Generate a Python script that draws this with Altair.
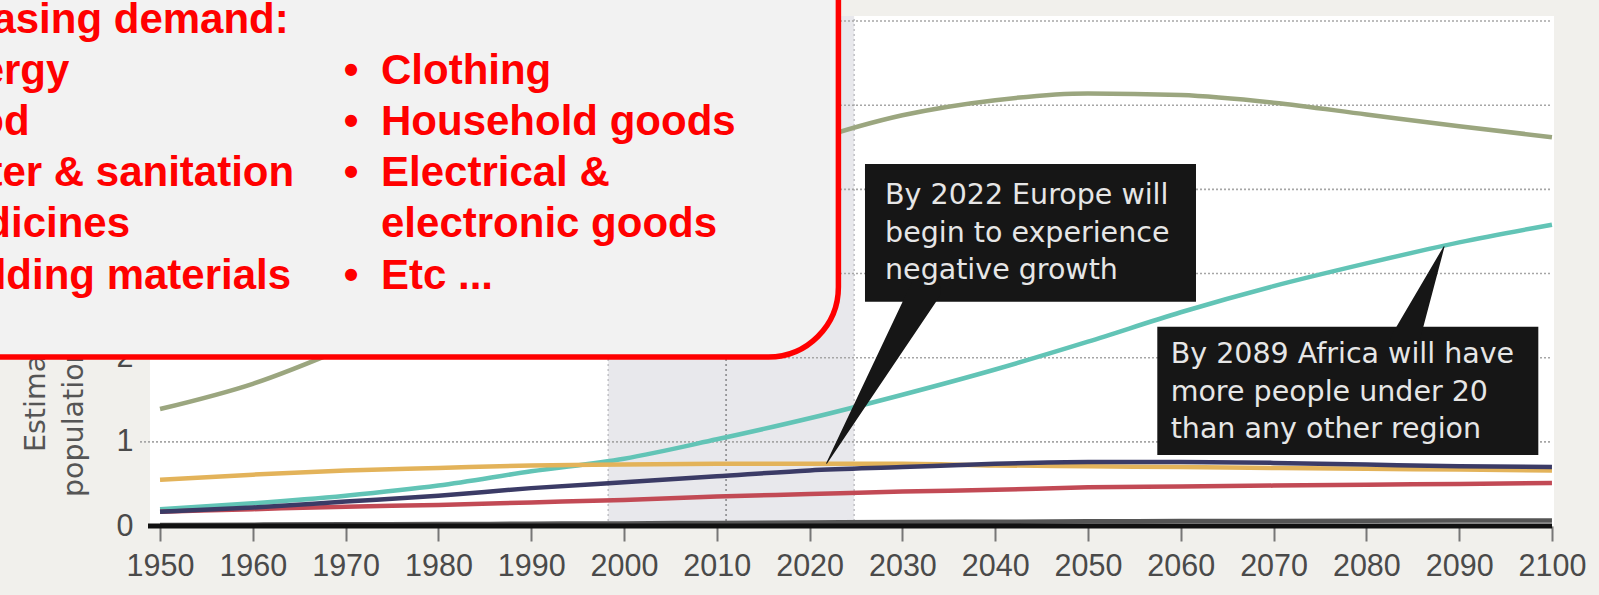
import altair as alt
import pandas as pd

# ---------------- data (billions) ----------------
years = [1950, 1960, 1970, 1980, 1990, 2000, 2010, 2020, 2030, 2040, 2050, 2060, 2070, 2080, 2090, 2100]
asia = [1.39, 1.69, 2.12, 2.62, 3.19, 3.70, 4.16, 4.57, 4.88, 5.06, 5.14, 5.12, 5.03, 4.89, 4.75, 4.62]
africa = [0.20, 0.27, 0.36, 0.48, 0.65, 0.80, 1.03, 1.28, 1.56, 1.86, 2.19, 2.54, 2.85, 3.12, 3.37, 3.58]
europe = [0.55, 0.61, 0.66, 0.69, 0.72, 0.73, 0.74, 0.74, 0.74, 0.72, 0.71, 0.70, 0.69, 0.68, 0.67, 0.66]
latin_america = [0.17, 0.22, 0.29, 0.36, 0.45, 0.52, 0.59, 0.66, 0.70, 0.74, 0.76, 0.76, 0.75, 0.73, 0.71, 0.70]
north_america = [0.17, 0.20, 0.23, 0.25, 0.28, 0.31, 0.35, 0.38, 0.41, 0.43, 0.46, 0.47, 0.48, 0.49, 0.50, 0.51]
oceania = [0.013, 0.016, 0.020, 0.023, 0.027, 0.031, 0.037, 0.042, 0.047, 0.051, 0.055, 0.058, 0.060, 0.062, 0.064, 0.066]

region_names = ["Asia", "Africa", "Europe", "North America", "Latin America", "Oceania"]
region_values = [asia, africa, europe, north_america, latin_america, oceania]
region_colors = ["#9ba67f", "#62c4b6", "#e3b35a", "#c24a55", "#3b3b66", "#555555"]

x_tick_values = years
y_tick_values = [0, 1, 2]          # higher labels are hidden beneath the red box
grid_values = [1, 2, 3, 4, 5, 6]

band_start, band_end = 1998.3, 2024.8
vline_years = [1998.3, 2011, 2024.8]
vline_colors = ["#c2c2c6", "#8a8a8e", "#c2c2c6"]

callout_texts = [
    "By 2022 Europe will\nbegin to experience\nnegative growth",
    "By 2089 Africa will have\nmore people under 20\nthan any other region",
]
callout_box_x = [2025.97, 2057.47]
callout_box_x2 = [2061.64, 2098.53]
callout_box_y = [4.301, 2.368]
callout_box_y2 = [2.665, 0.844]
callout_text_x = [2028.13, 2058.91]
callout_text_y = [3.826, 1.933]
pointer_id = ["europe", "europe", "africa", "africa"]
pointer_x = [2021.84, 2032.47, 2088.37, 2084.18]
pointer_y = [0.745, 2.804, 3.319, 2.210]
pointer_w = [0, 31, 0, 28.7]

heading = "Increasing demand:"
col1_items = ["Energy", "Food", "Water & sanitation", "Medicines", "Building materials"]
col2_items = ["Clothing", "Household goods", "Electrical &", "electronic goods", "Etc ..."]
col2_bullets = [True, True, True, False, True]

y_title_lines = ["Estimated", "population (billions)"]

# ---------------- layout ----------------
W, H = 1404, 510
PAD = {"left": 150, "top": 16, "right": 45, "bottom": 69}
xs = alt.Scale(domain=[1948.92, 2100.22], nice=False, zero=False)
ys = alt.Scale(domain=[0, 6.06], nice=False, zero=False)

AXIS_FONT = "Liberation Sans"
ANN_FONT = "DejaVu Sans"

x_axis = alt.Axis(values=x_tick_values, format="d", title=None, grid=False, domain=False,
                  ticks=True, tickSize=15, tickWidth=2, tickColor="#777777",
                  labelFont=AXIS_FONT, labelFontSize=30.5, labelColor="#4a4a4a",
                  labelPadding=10, labelFlush=False)
y_axis = alt.Axis(values=y_tick_values, format="d", title=None, grid=False, domain=False,
                  ticks=False, tickSize=0, labelFont=AXIS_FONT, labelFontSize=30.5,
                  labelColor="#4a4a4a", labelPadding=17)


def X(field, **kw):
    return alt.X(field, scale=xs, axis=x_axis, **kw)


def Y(field, **kw):
    return alt.Y(field, scale=ys, axis=y_axis, **kw)


layers = []

# shaded band
band_df = pd.DataFrame({"a": [band_start], "b": [band_end], "lo": [0.0], "hi": [6.06]})
layers.append(alt.Chart(band_df).mark_rect(color="#e8e8ec").encode(
    x=X("a:Q"), x2="b:Q", y=Y("lo:Q"), y2="hi:Q"))

# dotted verticals
vdf = pd.DataFrame({"yr": vline_years, "c": vline_colors, "lo": 0.0, "hi": 6.06})
layers.append(alt.Chart(vdf).mark_rule(strokeDash=[2, 3], strokeWidth=1.6).encode(
    x=X("yr:Q"), y=Y("lo:Q"), y2="hi:Q", color=alt.Color("c:N", scale=None)))

# dotted horizontal grid
gdf = pd.DataFrame({"v": grid_values})
layers.append(alt.Chart(gdf).mark_rule(strokeDash=[2, 2], strokeWidth=1.6, color="#a6a6a6").encode(
    y=Y("v:Q"), x=alt.value(-10), x2=alt.value(1402)))

# region lines
for name, vals, col in zip(region_names, region_values, region_colors):
    rdf = pd.DataFrame({"year": years, "pop": vals, "region": name})
    layers.append(alt.Chart(rdf).mark_line(color=col, strokeWidth=4.5, interpolate="monotone").encode(
        x=X("year:Q"), y=Y("pop:Q")))

# black baseline
layers.append(alt.Chart(pd.DataFrame({"z": [0.0]})).mark_rule(color="#111111", strokeWidth=5).encode(
    y=Y("z:Q"), x=alt.value(-2), x2=alt.value(1402)))

# callout boxes
bdf = pd.DataFrame({"x": callout_box_x, "x2": callout_box_x2, "y": callout_box_y, "y2": callout_box_y2})
layers.append(alt.Chart(bdf).mark_rect(color="#161616").encode(
    x=X("x:Q"), x2="x2:Q", y=Y("y:Q"), y2="y2:Q"))

pdf = pd.DataFrame({"id": pointer_id, "x": pointer_x, "y": pointer_y, "w": pointer_w})
layers.append(alt.Chart(pdf).mark_trail(color="#161616").encode(
    x=X("x:Q"), y=Y("y:Q"),
    size=alt.Size("w:Q", scale=None, legend=None), detail="id:N"))

tdf = pd.DataFrame({"x": callout_text_x, "y": callout_text_y, "t": callout_texts})
layers.append(alt.Chart(tdf).mark_text(align="left", baseline="alphabetic", font=ANN_FONT,
                                       fontSize=28.5, color="#e6e6e6", lineBreak="\n",
                                       lineHeight=37.5).encode(
    x=X("x:Q"), y=Y("y:Q"), text="t:N"))

# y-axis title (two rotated lines)
ytdf = pd.DataFrame({"px": [-105, -67], "py": [436, 481], "t": y_title_lines})
layers.append(alt.Chart(ytdf).mark_text(align="left", baseline="alphabetic", angle=270,
                                        font=ANN_FONT, fontSize=28.5, color="#555555").encode(
    x=alt.X("px:Q", scale=None, axis=None), y=alt.Y("py:Q", scale=None, axis=None), text="t:N"))

# red overlay box
layers.append(alt.Chart(pd.DataFrame({"k": [0]})).mark_rect(
    fill="#f2f2f2", stroke="#ff0000", strokeWidth=5.5, cornerRadius=70).encode(
    x=alt.value(-300), x2=alt.value(688.4), y=alt.value(-300), y2=alt.value(341)))

row_y = [68.3, 119, 169.7, 221.3, 273.3]
red_rows = [{"px": -258, "py": 17.3, "t": heading, "al": "left"}]
for ry, item in zip(row_y, col1_items):
    red_rows.append({"px": -253, "py": ry, "t": "\u2022", "al": "center"})
    red_rows.append({"px": -223, "py": ry, "t": item, "al": "left"})
for ry, item, b in zip(row_y, col2_items, col2_bullets):
    if b:
        red_rows.append({"px": 201, "py": ry, "t": "\u2022", "al": "center"})
    red_rows.append({"px": 231, "py": ry, "t": item, "al": "left"})
rdf_txt = pd.DataFrame(red_rows)
for al in ["left", "center"]:
    sub = rdf_txt[rdf_txt["al"] == al]
    layers.append(alt.Chart(sub).mark_text(align=al, baseline="alphabetic", font="Liberation Sans",
                                           fontSize=42, fontWeight="bold", color="#ff0000").encode(
        x=alt.X("px:Q", scale=None, axis=None), y=alt.Y("py:Q", scale=None, axis=None), text="t:N"))

chart = alt.layer(*layers).properties(
    width=W, height=H,
    autosize=alt.AutoSizeParams(type="none"),
    padding=PAD,
    background="#f1f0ec",
).configure_view(fill="white", stroke=None)

chart.save("out.html", embed_options={"renderer": "svg", "actions": False})
